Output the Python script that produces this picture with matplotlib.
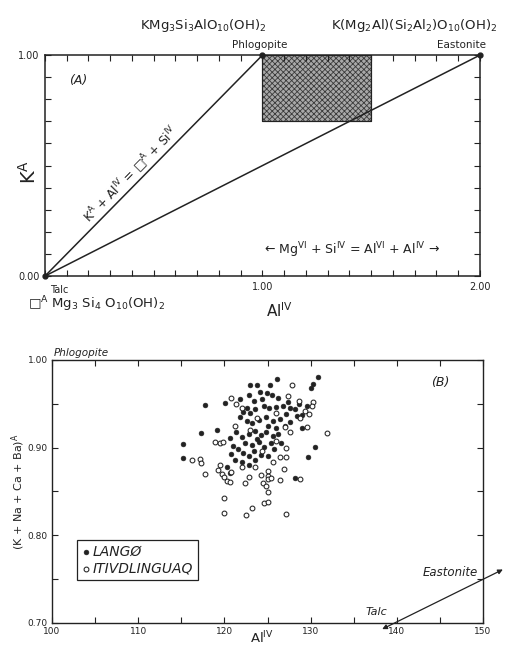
import matplotlib
matplotlib.use("Agg")
import matplotlib.pyplot as plt
from matplotlib.patches import Rectangle
import numpy as np

plt.rcParams['font.family'] = ['DejaVu Sans']
plt.rcParams['mathtext.default'] = 'regular'
plt.rcParams['hatch.linewidth'] = 0.6

INK = '#222222'

# ---------------- Panel A data ----------------
endmember_names = ['Talc', 'Phlogopite', 'Eastonite']
endmember_al = [0.0, 1.0, 2.0]
endmember_k = [0.0, 1.0, 1.0]
box_al = [1.0, 1.5]
box_k = [0.7, 1.0]
a_xticks = [0.0, 1.0, 2.0]
a_xticklabels = ['', '1.00', '2.00']
a_yticks = [0.0, 1.0]
a_yticklabels = ['0.00', '1.00']

# ---------------- Panel B data ----------------
lango_al = [130.9, 130.3, 130.1, 126.1, 123.0, 123.8, 125.3, 122.9, 124.1, 124.9, 125.5, 126.2,
            117.7, 120.1, 122.6, 122.2, 121.8, 123.0, 123.6, 124.6, 125.2, 126.0, 126.8, 127.6,
            128.2, 127.2, 128.4, 129.0, 122.6, 123.2, 124.0, 124.8, 125.6, 126.4, 125.0, 126.0,
            127.0, 127.6, 117.3, 119.1, 115.2, 120.6, 121.4, 122.0, 122.8, 123.6, 124.2, 124.8,
            125.6, 126.2, 122.4, 123.2, 124.0, 124.6, 125.4, 121.6, 122.2, 122.8, 123.4, 124.2,
            121.2, 122.0, 122.8, 123.6, 129.0, 130.5, 129.7, 128.2, 115.2, 120.3, 120.6,
            125.8, 126.6, 120.8, 121.0, 123.8, 125.0, 124.4, 127.4, 128.6, 129.6, 121.8, 123.4]
lango_a = [0.981, 0.973, 0.968, 0.978, 0.972, 0.971, 0.971, 0.960, 0.963, 0.962, 0.960, 0.957,
           0.949, 0.951, 0.945, 0.941, 0.935, 0.940, 0.944, 0.948, 0.945, 0.946, 0.947, 0.945,
           0.944, 0.938, 0.936, 0.937, 0.930, 0.928, 0.932, 0.935, 0.930, 0.933, 0.925, 0.922,
           0.925, 0.929, 0.917, 0.920, 0.904, 0.911, 0.918, 0.912, 0.916, 0.919, 0.914, 0.918,
           0.913, 0.916, 0.905, 0.903, 0.906, 0.901, 0.905, 0.898, 0.894, 0.890, 0.896, 0.892,
           0.886, 0.884, 0.880, 0.886, 0.922, 0.901, 0.889, 0.865, 0.888, 0.878, 0.871,
           0.898, 0.905, 0.893, 0.902, 0.910, 0.890, 0.955, 0.952, 0.950, 0.948, 0.955, 0.953]

itiv_al = [127.8, 130.3, 130.2, 120.8, 121.4, 127.4, 128.6, 129.4, 129.8, 128.8, 131.9, 129.6,
           127.0, 127.6, 118.9, 119.5, 119.8, 122.0, 123.8, 126.0, 116.2, 117.2, 117.3, 117.7,
           119.5, 119.3, 119.7, 120.0, 120.3, 120.6, 120.8, 119.9, 119.9, 122.4, 122.9, 123.2,
           122.5, 124.2, 125.1, 125.0, 126.5, 127.1, 126.9, 125.0, 125.4, 124.5, 124.8, 125.1,
           126.5, 128.8, 124.6, 125.1, 127.1, 122.0, 123.6, 124.4, 125.6, 127.2, 126.0, 121.2, 123.0]
itiv_a = [0.972, 0.952, 0.947, 0.957, 0.950, 0.959, 0.953, 0.942, 0.938, 0.934, 0.917, 0.924,
          0.923, 0.918, 0.906, 0.905, 0.906, 0.945, 0.934, 0.940, 0.886, 0.887, 0.883, 0.870,
          0.880, 0.875, 0.870, 0.866, 0.862, 0.861, 0.872, 0.843, 0.826, 0.860, 0.866, 0.831,
          0.823, 0.869, 0.873, 0.868, 0.889, 0.889, 0.876, 0.864, 0.865, 0.860, 0.856, 0.849,
          0.863, 0.864, 0.837, 0.838, 0.824, 0.878, 0.878, 0.896, 0.884, 0.900, 0.908, 0.925, 0.920]

b_xticks = [100, 110, 120, 130, 140, 150]
b_yticks = [0.70, 0.80, 0.90, 1.00]

fig = plt.figure(figsize=(5.06, 6.48), dpi=100)

# ================= Panel A =================
axA = fig.add_axes([0.0889, 0.574, 0.8597, 0.341])
axA.set_xlim(0, 2.0)
axA.set_ylim(0, 1.0)
axA.add_patch(Rectangle((box_al[0], box_k[0]), box_al[1] - box_al[0], box_k[1] - box_k[0],
                        facecolor='#a8a8a8', edgecolor='#3a3a3a', hatch='xxxxxx', lw=0.8, zorder=1))
axA.add_patch(Rectangle((box_al[0], box_k[0]), box_al[1] - box_al[0], box_k[1] - box_k[0],
                        facecolor='none', edgecolor=INK, lw=0.8, zorder=2))
axA.plot([endmember_al[0], endmember_al[1]], [endmember_k[0], endmember_k[1]], color=INK, lw=1.1, zorder=3)
axA.plot([endmember_al[0], endmember_al[2]], [endmember_k[0], endmember_k[2]], color=INK, lw=1.1, zorder=3)
axA.plot(endmember_al, endmember_k, 'o', color=INK, ms=3.5, clip_on=False, zorder=4)

axA.set_xticks(a_xticks)
axA.set_xticklabels(a_xticklabels)
axA.set_xticks(np.arange(0, 2.01, 0.1), minor=True)
axA.set_yticks(a_yticks)
axA.set_yticklabels(a_yticklabels)
axA.set_yticks(np.arange(0, 1.01, 0.1), minor=True)
for which in ['major', 'minor']:
    axA.tick_params(which=which, direction='in', top=True, right=True, length=4.5, width=0.8, colors=INK)
axA.tick_params(which='major', labelsize=7, labelcolor=INK, pad=4)
for s in axA.spines.values():
    s.set_linewidth(1.1)
    s.set_color(INK)

axA.text(0.152, 0.887, '(A)', fontsize=9, style='italic', color=INK, ha='center', va='center')
axA.text(0.43, 0.43, r'K$^{A}$ + Al$^{IV}$ = □$^{A}$ + Si$^{IV}$', fontsize=8.8, color=INK,
         rotation=45.5, rotation_mode='anchor', ha='center', va='bottom')
axA.text(1.41, 0.118, r'← Mg$^{VI}$ + Si$^{IV}$ = Al$^{VI}$ + Al$^{IV}$ →', fontsize=9,
         color=INK, ha='center', va='center')
axA.set_ylabel(r'K$^{A}$', fontsize=14, color=INK, labelpad=2)
axA.yaxis.set_label_coords(-0.012, 0.47)

fig.text(0.401, 0.961, r'KMg$_{3}$Si$_{3}$AlO$_{10}$(OH)$_{2}$', fontsize=9.5, color=INK, ha='center', va='center')
fig.text(0.514, 0.931, 'Phlogopite', fontsize=7.5, color=INK, ha='center', va='center')
fig.text(0.818, 0.961, r'K(Mg$_{2}$Al)(Si$_{2}$Al$_{2}$)O$_{10}$(OH)$_{2}$', fontsize=9.5, color=INK, ha='center', va='center')
fig.text(0.913, 0.931, 'Eastonite', fontsize=7.5, color=INK, ha='center', va='center')
fig.text(0.099, 0.5525, 'Talc', fontsize=7, color=INK, ha='left', va='center')
fig.text(0.055, 0.530, r'□$^{A}$ Mg$_{3}$ Si$_{4}$ O$_{10}$(OH)$_{2}$', fontsize=9.5, color=INK, ha='left', va='center')
fig.text(0.553, 0.520, r'Al$^{IV}$', fontsize=11, color=INK, ha='center', va='center')

# ================= Panel B =================
axB = fig.add_axes([0.1028, 0.0386, 0.8518, 0.4059])
axB.set_xlim(100, 150)
axB.set_ylim(0.70, 1.00)
axB.scatter(lango_al, lango_a, s=12, c=INK, marker='o', linewidths=0.4, edgecolors=INK,
            label='LANGØ', zorder=3)
axB.scatter(itiv_al, itiv_a, s=12, facecolors='white', marker='o', linewidths=0.75, edgecolors=INK,
            label='ITIVDLINGUAQ', zorder=3)
axB.set_xticks(b_xticks)
axB.set_xticklabels([str(v) for v in b_xticks])
axB.set_xticks(np.arange(100, 150.1, 5), minor=True)
axB.set_yticks(b_yticks)
axB.set_yticklabels(['%.2f' % v for v in b_yticks])
axB.set_yticks(np.arange(0.70, 1.001, 0.05), minor=True)
for which in ['major', 'minor']:
    axB.tick_params(which=which, direction='in', top=True, right=True, length=4, width=0.8, colors=INK)
axB.tick_params(which='major', labelsize=6.5, labelcolor=INK, pad=3)
for s in axB.spines.values():
    s.set_linewidth(1.0)
    s.set_color(INK)

leg = axB.legend(loc='lower left', bbox_to_anchor=(0.058, 0.165), frameon=True, fancybox=False,
                 edgecolor=INK, framealpha=1, handletextpad=0.15, handlelength=0.7,
                 borderpad=0.3, labelspacing=0.2, borderaxespad=0.0,
                 prop={'style': 'italic', 'size': 10})
leg.get_frame().set_linewidth(0.9)
for t in leg.get_texts():
    t.set_color(INK)

axB.text(0.90, 0.913, '(B)', transform=axB.transAxes, fontsize=9, style='italic', color=INK,
         ha='center', va='center')
axB.text(0.005, 1.008, 'Phlogopite', transform=axB.transAxes, fontsize=7.5, style='italic', color=INK,
         ha='left', va='bottom')
axB.annotate('', xy=(152.3, 0.761), xytext=(138.3, 0.693), xycoords='data', textcoords='data',
             annotation_clip=False,
             arrowprops=dict(arrowstyle='<|-|>', color=INK, lw=0.9, mutation_scale=7,
                             shrinkA=0, shrinkB=0))
axB.text(146.2, 0.758, 'Eastonite', fontsize=8.5, style='italic', color=INK, ha='center', va='center')
axB.text(137.6, 0.712, 'Talc', fontsize=8, style='italic', color=INK, ha='center', va='center')
axB.set_ylabel(r'(K + Na + Ca + Ba)$^{A}$', fontsize=8, color=INK)
axB.yaxis.set_label_coords(-0.058, 0.5)
fig.text(0.518, 0.002, r'Al$^{IV}$', fontsize=9.5, color=INK, ha='center', va='bottom')

fig.savefig('out.png', dpi=100, facecolor='white')
